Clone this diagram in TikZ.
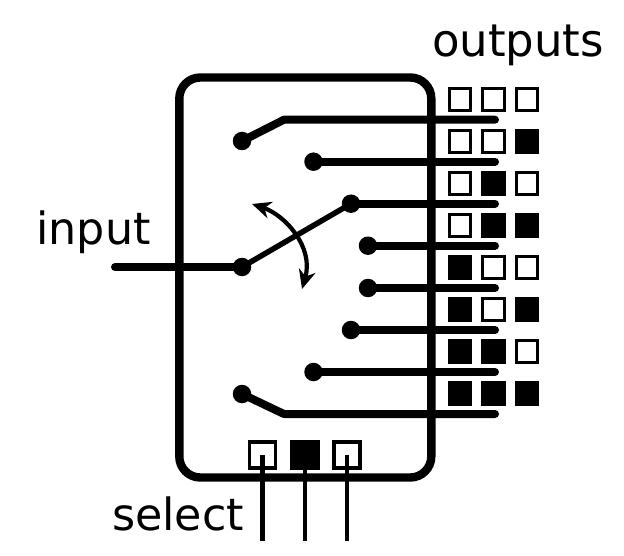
\documentclass[tikz,border=0pt]{standalone}
\usepackage{fontspec}
\setmainfont{DejaVu Sans}
\usetikzlibrary{arrows.meta}
\tikzset{
  lbl/.style={inner sep=0pt,outer sep=0pt,anchor=base west,font=\fontsize{44.4}{50}\selectfont},
  lblwide/.style={lbl,font=\fontsize{45}{50}\selectfont},
  bit/.style={draw=black,line width=2.8pt,fill=white,minimum size=21.5pt,inner sep=0pt,outer sep=0pt},
  bitset/.style={bit,fill=black},
  selbit/.style={draw=black,line width=3.2pt,fill=white,minimum size=26pt,inner sep=0pt,outer sep=0pt},
  selbitset/.style={selbit,fill=black},
  contact/.style={circle,fill=black,minimum size=18.5pt,inner sep=0pt,outer sep=0pt},
  wire/.style={line width=8pt,line cap=round,line join=round},
  arm/.style={line width=5.5pt},
  selwire/.style={line width=4.6pt},
  turn/.style={line width=4.2pt,{Stealth[length=19pt,width=17pt,inset=6pt]}-{Stealth[length=19pt,width=17pt,inset=6pt]}}
}
\begin{document}
\begin{tikzpicture}[x=1pt,y=-1pt]
\useasboundingbox (0,0) rectangle (624,556);
% output codes
\foreach \r/\y/\a/\b/\c in {
  1/99.5/bit/bit/bit,
  2/141.5/bit/bit/bitset,
  3/183.5/bit/bitset/bit,
  4/225.5/bit/bitset/bitset,
  5/267.5/bitset/bit/bit,
  6/309.5/bitset/bit/bitset,
  7/351.5/bitset/bitset/bit,
  8/393.5/bitset/bitset/bitset}{
  \node[\a] (o\r a) at (460,\y) {};
  \node[\b] (o\r b) at (493.5,\y) {};
  \node[\c] (o\r c) at (527,\y) {};
}
% select squares
\node[selbit] (sa) at (262.7,455) {};
\node[selbitset] (sb) at (305,455) {};
\node[selbit] (sc) at (347,455) {};
% housing
\node[draw=black,line width=8.4pt,rounded corners=21pt,minimum width=252pt,minimum height=400pt,inner sep=0pt,outer sep=0pt,anchor=north west] (box) at (179.3,77.5) {};
% contacts
\node[contact] (c1) at (242,141) {};
\node[contact] (c2) at (313.5,161.7) {};
\node[contact] (c3) at (351,203.7) {};
\node[contact] (c4) at (368,245.7) {};
\node[contact] (c5) at (368,288) {};
\node[contact] (c6) at (351,330) {};
\node[contact] (c7) at (313.5,372) {};
\node[contact] (c8) at (242,394) {};
\node[contact] (in) at (242,267) {};
\coordinate (e1) at (495,119.7);
\coordinate (e2) at (495,161.7);
\coordinate (e3) at (495,203.7);
\coordinate (e4) at (495,245.7);
\coordinate (e5) at (495,288);
\coordinate (e6) at (495,330);
\coordinate (e7) at (495,372);
\coordinate (e8) at (495,414);
\coordinate (k1) at (284,119.7);
\coordinate (k8) at (284,414);
\coordinate (src) at (115,267);
\draw[wire] (c1.center) -- (k1) -- (e1);
\draw[wire] (c2.center) -- (e2);
\draw[wire] (c3.center) -- (e3);
\draw[wire] (c4.center) -- (e4);
\draw[wire] (c5.center) -- (e5);
\draw[wire] (c6.center) -- (e6);
\draw[wire] (c7.center) -- (e7);
\draw[wire] (c8.center) -- (k8) -- (e8);
\draw[wire] (src) -- (in.center);
\draw[arm] (in.center) -- (c3.center);
% turning arrow
\coordinate (ta) at (252,204);
\coordinate (tb) at (302,289);
\draw[turn] (ta) .. controls (285,215) and (314,247) .. (tb);
% select wires
\coordinate (sae) at (262.7,540.7);
\coordinate (sbe) at (305,540.7);
\coordinate (sce) at (347,540.7);
\draw[selwire] (sa.center) -- (sae);
\draw[selwire] (sb.center) -- (sbe);
\draw[selwire] (sc.center) -- (sce);
% labels
\node[lblwide] (lo) at (432,57) {outputs};
\node[lbl] (li) at (36.5,244) {input};
\node[lbl] (ls) at (112,530) {select};
\end{tikzpicture}
\end{document}
